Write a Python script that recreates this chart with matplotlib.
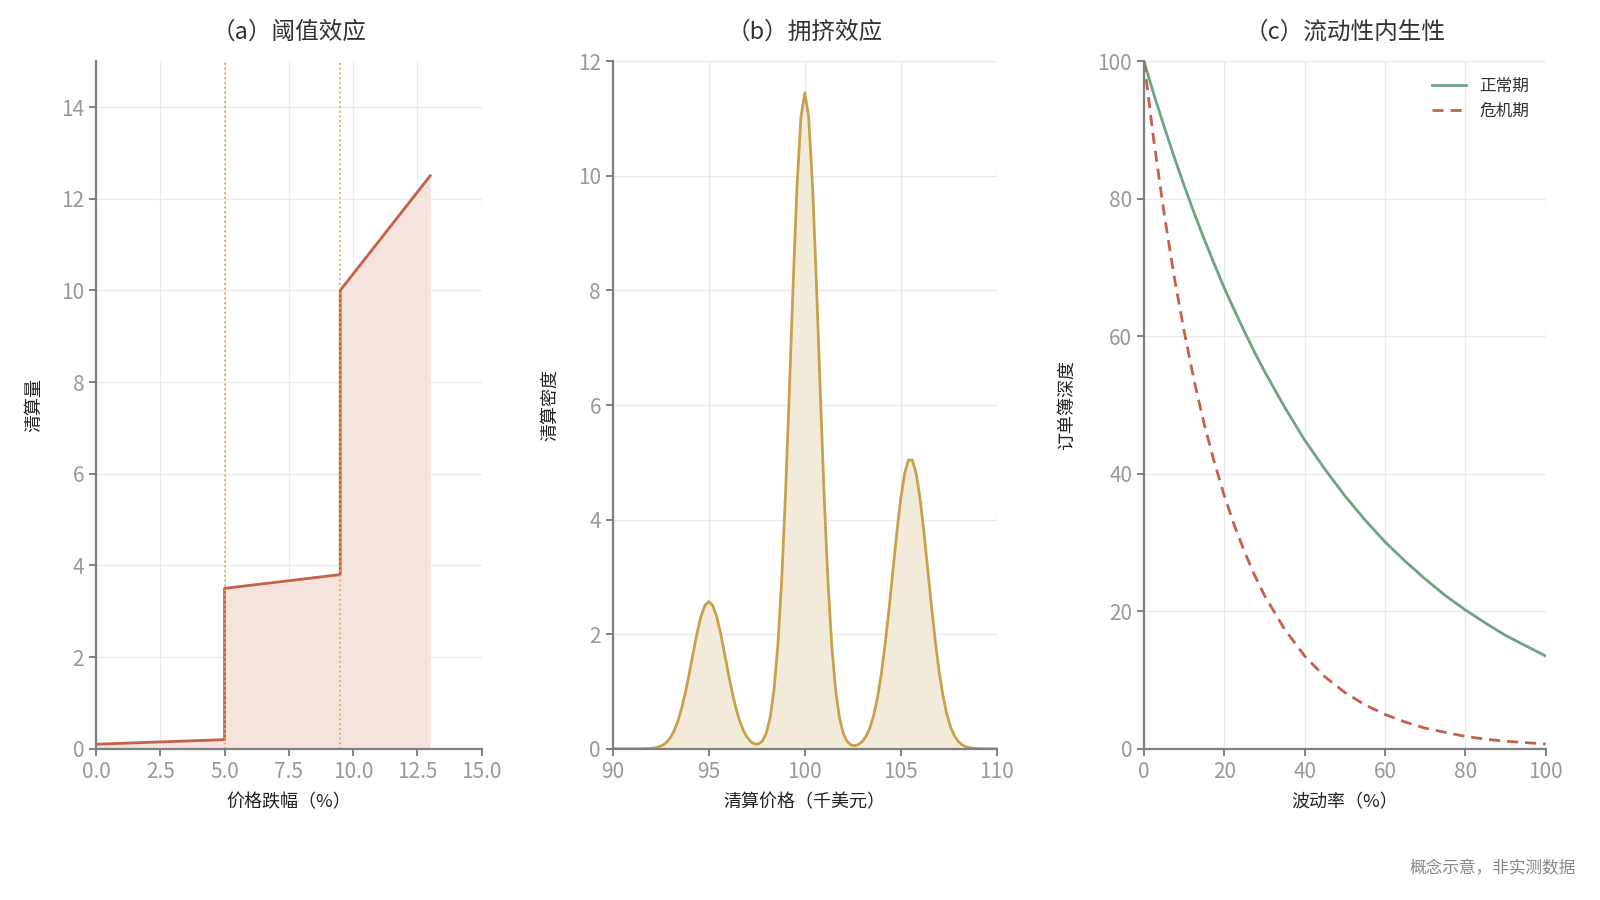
import numpy as np
import matplotlib
matplotlib.use('Agg')
import matplotlib.pyplot as plt

plt.rcParams['font.family'] = ['Noto Sans CJK SC', 'DejaVu Sans']
plt.rcParams['axes.unicode_minus'] = False

# (a) threshold effect: price drop (%) vs liquidation volume
drop_x = [0, 5, 5, 9.5, 9.5, 13]
liq_y = [0.1, 0.2, 3.5, 3.8, 10.0, 12.5]
thresholds = [5, 9.5]

# (b) crowding: liquidation price (k USD) vs density, sampled every 0.2
price_x = np.linspace(90, 110, 101)
density_y = [
    0, 0, 0, 0, 0, 0, 0, 0, 0.002, 0.004,
    0.008, 0.016, 0.033, 0.063, 0.113, 0.195, 0.318, 0.492, 0.725, 1.014,
    1.347, 1.701, 2.038, 2.318, 2.504, 2.57, 2.504, 2.318, 2.038, 1.701,
    1.347, 1.014, 0.725, 0.492, 0.319, 0.198, 0.120, 0.083, 0.085, 0.138,
    0.277, 0.552, 1.038, 1.821, 2.966, 4.482, 6.281, 8.168, 9.855, 11.03,
    11.45, 11.03, 9.855, 8.168, 6.281, 4.482, 2.966, 1.821, 1.036, 0.550,
    0.273, 0.130, 0.069, 0.055, 0.075, 0.129, 0.223, 0.375, 0.601, 0.920,
    1.342, 1.868, 2.481, 3.142, 3.796, 4.374, 4.807, 5.040, 5.040, 4.807,
    4.374, 3.796, 3.142, 2.481, 1.868, 1.342, 0.920, 0.601, 0.375, 0.223,
    0.126, 0.068, 0.035, 0.017, 0.008, 0.004, 0.002, 0.001, 0, 0,
    0,
]

# (c) endogenous liquidity: volatility (%) vs order book depth
vol_x = [0, 2.5, 5, 7.5, 10, 12.5, 15, 17.5, 20, 22.5, 25, 27.5, 30, 35, 40, 45,
         50, 55, 60, 65, 70, 75, 80, 85, 90, 95, 100]
depth_normal = [100, 95.1, 90.5, 86.1, 81.9, 77.9, 74.1, 70.5, 67.0, 63.8, 60.7,
                57.7, 54.9, 49.7, 44.9, 40.7, 36.8, 33.3, 30.1, 27.3, 24.7, 22.3,
                20.2, 18.3, 16.5, 15.0, 13.5]
depth_crisis = [100, 88.2, 77.9, 68.7, 60.7, 53.5, 47.2, 41.7, 36.8, 32.5, 28.7,
                25.3, 22.3, 17.4, 13.5, 10.5, 8.2, 6.4, 5.0, 3.9, 3.0, 2.4, 1.8,
                1.4, 1.1, 0.9, 0.7]

RED = '#C4604C'
GOLD = '#C9A04E'
GREEN = '#6FA382'
SPINE = '#808080'
TICK = '#999999'

fig = plt.figure(figsize=(16, 9), dpi=100)
ax1 = fig.add_axes([0.060, 0.168, 0.241, 0.764])
ax2 = fig.add_axes([0.383, 0.168, 0.240, 0.764])
ax3 = fig.add_axes([0.715, 0.168, 0.251, 0.764])


def style(ax):
    for s in ['top', 'right']:
        ax.spines[s].set_visible(False)
    for s in ['left', 'bottom']:
        ax.spines[s].set_color(SPINE)
        ax.spines[s].set_linewidth(1.6)
    ax.grid(True, color='#EBEBEB', linewidth=1)
    ax.set_axisbelow(True)
    ax.tick_params(colors=SPINE, labelcolor=TICK, labelsize=15, length=5, width=1.4)
    for lab in ax.get_xticklabels() + ax.get_yticklabels():
        lab.set_fontweight('light')


# panel a
ax1.fill_between(drop_x, liq_y, 0, color='#F5E3DE', linewidth=0)
ax1.plot(drop_x, liq_y, color=RED, linewidth=2)
for t in thresholds:
    ax1.axvline(t, color='#D6AE5C', linestyle=':', linewidth=1.3)
ax1.set_xlim(0, 15)
ax1.set_ylim(0, 15)
ax1.set_xticks([0, 2.5, 5, 7.5, 10, 12.5, 15])
ax1.set_xticklabels(['0.0', '2.5', '5.0', '7.5', '10.0', '12.5', '15.0'])
ax1.set_yticks([0, 2, 4, 6, 8, 10, 12, 14])
style(ax1)
ax1.set_title('（a）阈值效应', fontsize=17, color='#333333', pad=16)
ax1.set_xlabel('价格跌幅（%）', fontsize=13, color='#222222', labelpad=8)
ax1.set_ylabel('清算量', fontsize=13, color='#222222')
ax1.yaxis.set_label_coords(-0.136, 0.5)

# panel b
ax2.fill_between(price_x, density_y, 0, color='#F3EBDA', linewidth=0)
ax2.plot(price_x, density_y, color=GOLD, linewidth=2)
ax2.set_xlim(90, 110)
ax2.set_ylim(0, 12)
ax2.set_xticks([90, 95, 100, 105, 110])
ax2.set_yticks([0, 2, 4, 6, 8, 10, 12])
style(ax2)
ax2.set_title('（b）拥挤效应', fontsize=17, color='#333333', pad=16)
ax2.set_xlabel('清算价格（千美元）', fontsize=13, color='#222222', labelpad=8)
ax2.set_ylabel('清算密度', fontsize=13, color='#222222')
ax2.yaxis.set_label_coords(-0.140, 0.5)

# panel c
ax3.plot(vol_x, depth_normal, color=GREEN, linewidth=2, label='正常期')
ax3.plot(vol_x, depth_crisis, color=RED, linewidth=2, linestyle=(0, (4, 2.5)), label='危机期')
ax3.set_xlim(0, 100)
ax3.set_ylim(0, 100)
ax3.set_xticks([0, 20, 40, 60, 80, 100])
ax3.set_yticks([0, 20, 40, 60, 80, 100])
style(ax3)
ax3.set_title('（c）流动性内生性', fontsize=17, color='#333333', pad=16)
ax3.set_xlabel('波动率（%）', fontsize=13, color='#222222', labelpad=8)
ax3.set_ylabel('订单簿深度', fontsize=13, color='#222222')
ax3.yaxis.set_label_coords(-0.169, 0.5)
leg = ax3.legend(loc='upper right', frameon=False, fontsize=12, handlelength=2,
                 borderaxespad=0.6)
for t in leg.get_texts():
    t.set_color('#333333')

fig.text(0.985, 0.025, '概念示意，非实测数据', ha='right', va='bottom',
         fontsize=12, color='#888888')

fig.savefig('out.png', dpi=100)
